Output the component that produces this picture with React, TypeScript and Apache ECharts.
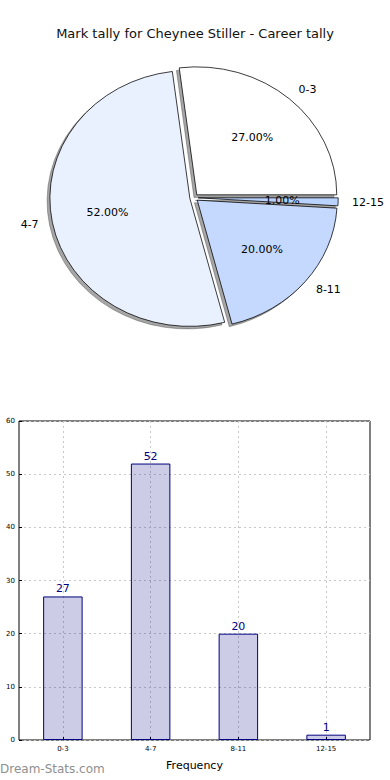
import React, { useEffect, useRef } from "react";
import * as echarts from "echarts";

const titleText = "Mark tally for Cheynee Stiller - Career tally";
const categories = ["0-3", "4-7", "8-11", "12-15"];
const counts = [27, 52, 20, 1];
const pieColors = ["#ffffff", "#eaf1fe", "#c5d9fe", "#b9d3fe"];
const yTicks = { min: 0, max: 60, interval: 10 };
const xAxisName = "Frequency";
const watermark = "Dream-Stats.com";

const FONT = "DejaVu Sans";

export default function App() {
  const ref = useRef<HTMLDivElement>(null);
  useEffect(() => {
    if (!ref.current) return;
    const chart = echarts.init(ref.current, null, { renderer: "svg" });
    const total = counts.reduce((a, b) => a + b, 0);
    const CX = 194;
    const CY = 197.7;
    const RX = 140;
    const RY = 128;
    const EXPLODE = 0.03;
    const SHX = -0.02 * RX;
    const SHY = 0.02 * RY;

    const renderPie = (params: any, api: any) => {
      const i = params.dataIndex;
      const v = api.value(0);
      let startDeg = 0;
      for (let j = 0; j < i; j++) startDeg += (counts[j] / total) * 360;
      const endDeg = startDeg + (v / total) * 360;
      const mid = (((startDeg + endDeg) / 2) * Math.PI) / 180;
      const c = Math.cos(mid);
      const s = Math.sin(mid);
      const vx = CX + EXPLODE * RX * c;
      const vy = CY - EXPLODE * RY * s;
      const sa = (-startDeg * Math.PI) / 180;
      const ea = (-endDeg * Math.PI) / 180;
      const shape = { cx: 0, cy: 0, r0: 0, r: RX, startAngle: sa, endAngle: ea, clockwise: false };
      const pct = ((v / total) * 100).toFixed(2) + "%";
      return {
        type: "group",
        children: [
          {
            type: "sector",
            x: vx + SHX,
            y: vy + SHY,
            scaleY: RY / RX,
            shape,
            style: { fill: "rgba(77,77,77,0.5)", stroke: "rgba(60,60,60,0.5)", lineWidth: 0.8, strokeNoScale: true },
            z2: 1,
          },
          {
            type: "sector",
            x: vx,
            y: vy,
            scaleY: RY / RX,
            shape,
            style: { fill: pieColors[i], stroke: "#000", lineWidth: 0.8, strokeNoScale: true },
            z2: 10,
          },
          {
            type: "text",
            x: vx + 0.6 * RX * c,
            y: vy - 0.6 * RY * s,
            style: {
              text: pct,
              fill: "#000",
              fontSize: 11,
              fontFamily: FONT,
              align: "center",
              verticalAlign: "middle",
            },
            z2: 20,
          },
          {
            type: "text",
            x: vx + 1.1 * RX * c,
            y: vy - 1.1 * RY * s,
            style: {
              text: categories[i],
              fill: "#000",
              fontSize: 11,
              fontFamily: FONT,
              align: c >= 0 ? "left" : "right",
              verticalAlign: "middle",
            },
            z2: 20,
          },
        ],
      };
    };

    chart.setOption({
      animation: false,
      backgroundColor: "#fff",
      title: {
        text: titleText,
        left: "center",
        top: 22,
        textStyle: { fontSize: 13, fontWeight: "normal", fontFamily: FONT, color: "#111" },
      },
      graphic: [
        {
          type: "text",
          left: 0,
          top: 763,
          style: { text: watermark, fill: "#8f8f8f", fontSize: 12, fontFamily: FONT, fontWeight: "normal" },
        },
      ],
      grid: {
        left: 19,
        top: 421,
        width: 351,
        height: 319,
        show: true,
        borderColor: "#000",
        borderWidth: 1,
        backgroundColor: "transparent",
      },
      xAxis: {
        type: "category",
        data: categories,
        boundaryGap: true,
        axisLine: { show: false },
        axisTick: { show: true, inside: true, alignWithLabel: true, length: 3, lineStyle: { color: "#000" } },
        axisLabel: { fontSize: 7, color: "#000", fontFamily: FONT, margin: 5 },
        splitLine: { show: true, alignWithLabel: true, lineStyle: { type: [2, 3], color: "#c8c8c8", width: 1 } },
        name: xAxisName,
        nameLocation: "middle",
        nameGap: 20,
        nameTextStyle: { fontSize: 11, fontFamily: FONT, color: "#000" },
      },
      yAxis: {
        type: "value",
        min: yTicks.min,
        max: yTicks.max,
        interval: yTicks.interval,
        axisLine: { show: false },
        axisTick: { show: true, inside: true, length: 3, lineStyle: { color: "#000" } },
        axisLabel: { fontSize: 7, color: "#000", fontFamily: FONT, margin: 4 },
        splitLine: { show: true, lineStyle: { type: [2, 3], color: "#c8c8c8", width: 1 } },
      },
      series: [
        {
          type: "custom",
          coordinateSystem: "none",
          data: counts.map((v) => [v]),
          renderItem: renderPie,
        },
        {
          type: "bar",
          data: counts,
          barWidth: "45%",
          itemStyle: { color: "rgba(0,0,128,0.2)", borderColor: "#000080", borderWidth: 1 },
          label: {
            show: true,
            position: "top",
            distance: 2,
            color: "#000080",
            fontSize: 11,
            fontFamily: FONT,
          },
        },
      ],
    });
    return () => chart.dispose();
  }, []);
  return (
    <div
      ref={ref}
      style={{ position: "fixed", left: 0, top: 0, width: 390, height: 780 }}
    />
  );
}
